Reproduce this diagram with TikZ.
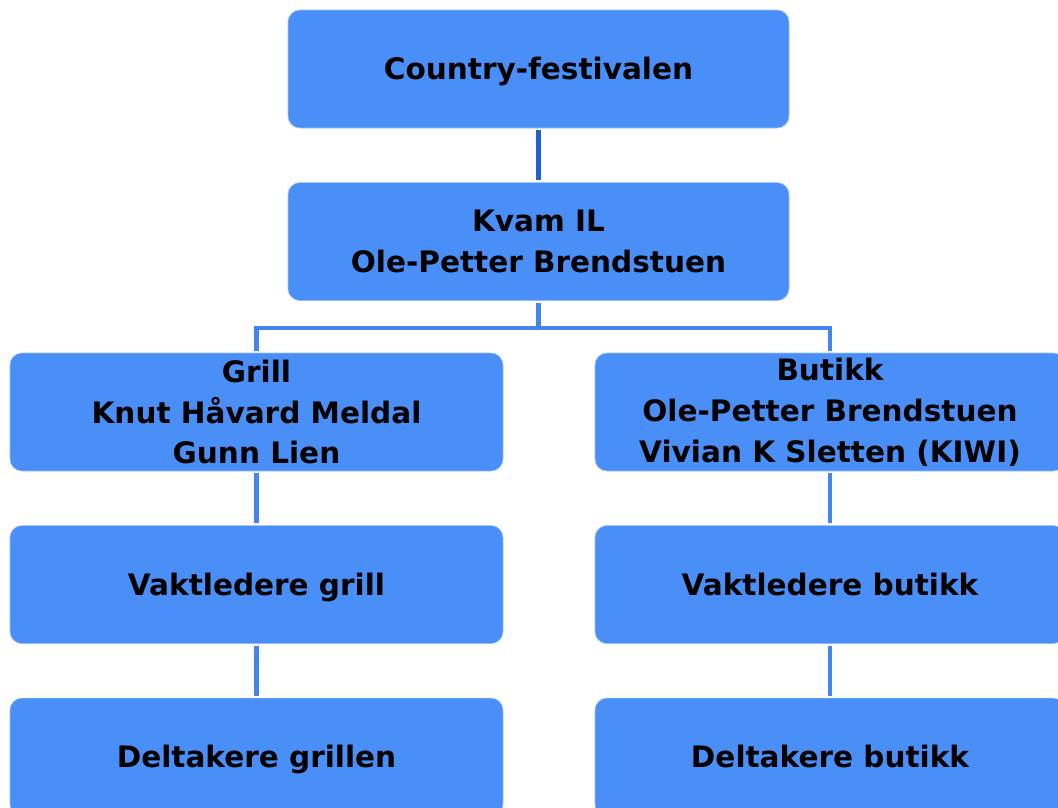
\documentclass[tikz,border=0pt]{standalone}
\usepackage{fontspec}
\setmainfont{DejaVu Sans}
\usepackage{tikz}
\usetikzlibrary{positioning}
\definecolor{boxblue}{RGB}{74,143,248}
\definecolor{stemblue}{RGB}{34,96,206}
\definecolor{linkblue}{RGB}{66,133,236}
\tikzset{box/.style = {fill=boxblue, draw={rgb,255:red,150;green,190;blue,250}, line width=0.4pt, rounded corners=0.3cm, minimum height=2.95cm, inner sep=0pt, font=\bfseries\fontsize{21}{29}\selectfont}}
\tikzset{unit/.style = {box, align=center}}
\tikzset{oneline/.style = {box, text height=15.3pt, text depth=0pt}}
\tikzset{stem/.style = {draw=stemblue, line width=0.14cm, shorten <=0.05cm, shorten >=0.05cm}}
\tikzset{link/.style = {draw=linkblue, line width=0.11cm, shorten <=0.05cm, shorten >=0.05cm}}

\begin{document}
\begin{tikzpicture}[node distance=1.35cm]
  \path[use as bounding box, clip] (0,0) rectangle (26.45,-20.175);
  \node [oneline, minimum width=12.525cm] (festival) at (13.4625,-1.725) {Country-festivalen};
  \node [unit, minimum width=12.525cm, below=of festival] (kvam) {Kvam IL\\Ole-Petter Brendstuen};
  \node [unit, minimum width=12.325cm] (grill) at (6.4125,-10.3) {Grill\\Knut Håvard Meldal\\Gunn Lien};
  \node [unit, minimum width=11.75cm] (butikk) at (20.75,-10.3) {Butikk\\Ole-Petter Brendstuen\\Vivian K Sletten (KIWI)};
  \node [oneline, minimum width=12.325cm, below=of grill] (vaktgrill) {Vaktledere grill};
  \node [oneline, minimum width=11.75cm, below=of butikk] (vaktbutikk) {Vaktledere butikk};
  \node [oneline, minimum width=12.325cm, below=of vaktgrill] (deltgrill) {Deltakere grillen};
  \node [oneline, minimum width=11.75cm, below=of vaktbutikk] (deltbutikk) {Deltakere butikk};

  \path[stem] (festival) -- (kvam);
  \path[link] (kvam.south) -- ++(0,-0.675) -| (grill.north);
  \path[link] (kvam.south) -- ++(0,-0.675) -| (butikk.north);
  \path[link] (grill) -- (vaktgrill);
  \path[link] (vaktgrill) -- (deltgrill);
  \path[link] (butikk) -- (vaktbutikk);
  \path[link] (vaktbutikk) -- (deltbutikk);
\end{tikzpicture}
\end{document}
